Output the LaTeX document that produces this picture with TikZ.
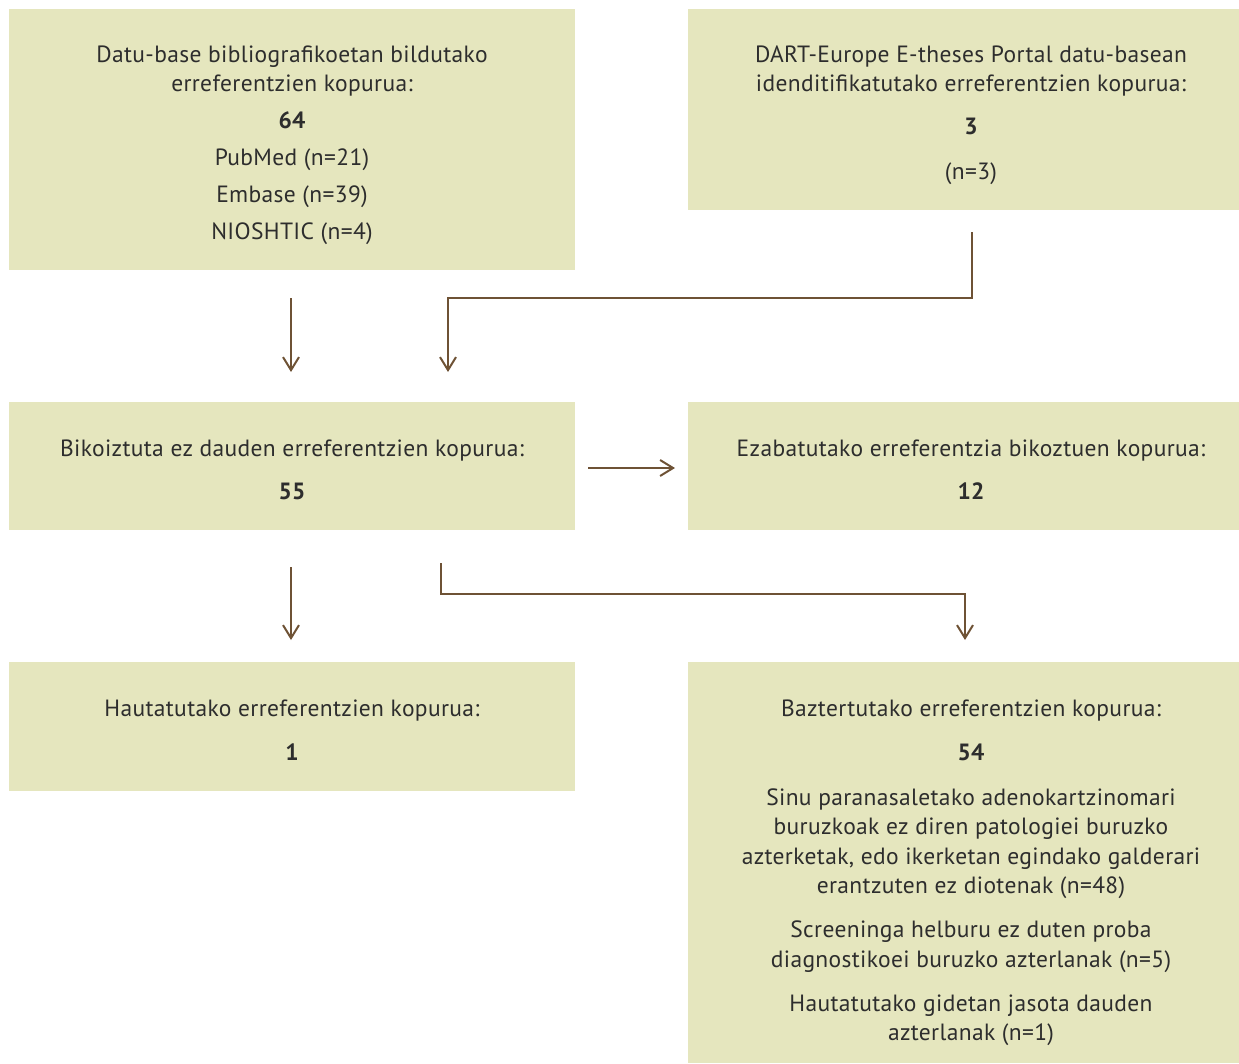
\documentclass[tikz,border=0pt]{standalone}
\usepackage{fontspec}
\setmainfont{PT Sans}[LetterSpace=1.5]
\usetikzlibrary{arrows.meta}
\definecolor{boxfill}{RGB}{229,230,190}
\definecolor{arrowc}{RGB}{110,82,53}
\definecolor{txt}{RGB}{45,45,45}
\begin{document}
\begin{tikzpicture}[x=1pt,y=-1pt,
  box/.style={fill=boxfill, draw=none, inner sep=0pt, outer sep=0pt},
  ln/.style={anchor=base, inner sep=0pt, text=txt, font=\fontsize{23.5}{28}\selectfont},
  num/.style={ln, font=\fontsize{23.5}{28}\selectfont\bfseries},
  conn/.style={draw=arrowc, line width=2pt, -{Straight Barb[length=13pt,width=16pt,line width=2pt]}}]
\useasboundingbox (0,0) rectangle (1239,1063);
% boxes
\node[box, minimum width=566pt, minimum height=261pt] (b1) at (292,139.5) {};
\node[box, minimum width=551pt, minimum height=201pt] (b2) at (963.5,109.5) {};
\node[box, minimum width=566pt, minimum height=128pt] (b3) at (292,466) {};
\node[box, minimum width=551pt, minimum height=128pt] (b4) at (963.5,466) {};
\node[box, minimum width=566pt, minimum height=129pt] (b5) at (292,726.5) {};
\node[box, minimum width=551pt, minimum height=401pt] (b6) at (963.5,862.5) {};
% box 1 text
\node[ln] (t11) at (292,62) {Datu-base bibliografikoetan bildutako};
\node[ln] (t12) at (292,91) {erreferentzien kopurua:};
\node[num] (t13) at (292,128) {64};
\node[ln] (t14) at (292,165) {PubMed (n=21)};
\node[ln] (t15) at (292,202) {Embase (n=39)};
\node[ln] (t16) at (292,239) {NIOSHTIC (n=4)};
% box 2 text
\node[ln] (t21) at (971,62) {DART-Europe E-theses Portal datu-basean};
\node[ln] (t22) at (971,91) {idenditifikatutako erreferentzien kopurua:};
\node[num] (t23) at (971,134) {3};
\node[ln] (t24) at (971,179) {(n=3)};
% box 3 text
\node[ln] (t31) at (292,456) {Bikoiztuta ez dauden erreferentzien kopurua:};
\node[num] (t32) at (292,499) {55};
% box 4 text
\node[ln] (t41) at (971,456) {Ezabatutako erreferentzia bikoztuen kopurua:};
\node[num] (t42) at (971,499) {12};
% box 5 text
\node[ln] (t51) at (292,716) {Hautatutako erreferentzien kopurua:};
\node[num] (t52) at (292,760) {1};
% box 6 text
\node[ln] (t61) at (971,716) {Baztertutako erreferentzien kopurua:};
\node[num] (t62) at (971,760) {54};
\node[ln] (t63) at (971,805) {Sinu paranasaletako adenokartzinomari};
\node[ln] (t64) at (971,834) {buruzkoak ez diren patologiei buruzko};
\node[ln] (t65) at (971,864) {azterketak, edo ikerketan egindako galderari};
\node[ln] (t66) at (971,893) {erantzuten ez diotenak (n=48)};
\node[ln] (t67) at (971,937) {Screeninga helburu ez duten proba};
\node[ln] (t68) at (971,967) {diagnostikoei buruzko azterlanak (n=5)};
\node[ln] (t69) at (971,1011) {Hautatutako gidetan jasota dauden};
\node[ln] (t6a) at (971,1040) {azterlanak (n=1)};
% connector end points
\coordinate (a1s) at (291,298); \coordinate (a1e) at (291,372);
\coordinate (a2s) at (972,232); \coordinate (a2e) at (448,372);
\coordinate (a3s) at (588,468); \coordinate (a3e) at (675,468);
\coordinate (a4s) at (291,567); \coordinate (a4e) at (291,640);
\coordinate (a5s) at (441,563); \coordinate (a5e) at (965,640);
% connectors
\draw[conn] (a1s) -- (a1e);
\draw[conn] (a2s) -- (a2s |- 0,298) -- (a2e |- 0,298) -- (a2e);
\draw[conn] (a3s) -- (a3e);
\draw[conn] (a4s) -- (a4e);
\draw[conn] (a5s) -- (a5s |- 0,594) -- (a5e |- 0,594) -- (a5e);
\end{tikzpicture}
\end{document}
